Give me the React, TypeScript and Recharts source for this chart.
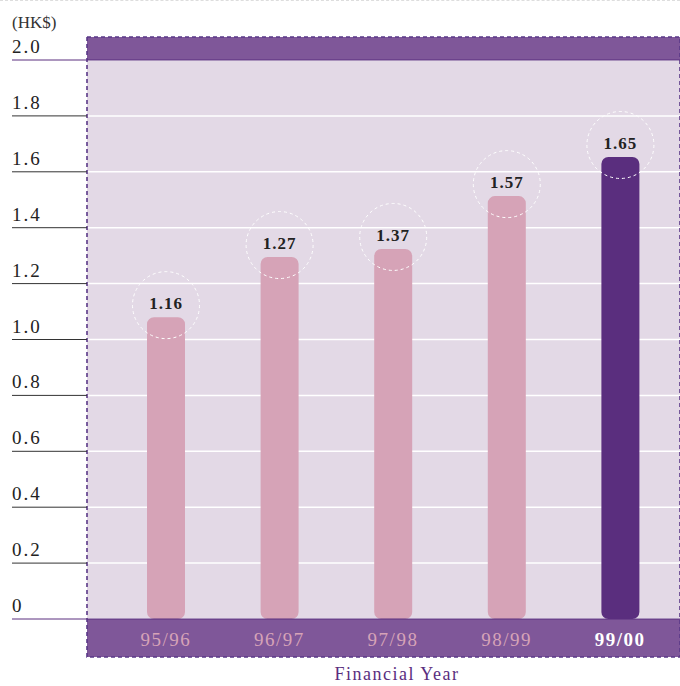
import React from "react";
import {
  BarChart,
  Bar,
  XAxis,
  YAxis,
  CartesianGrid,
  ReferenceArea,
  ReferenceLine,
  LabelList,
  Cell,
} from "recharts";

const years = ["95/96", "96/97", "97/98", "98/99", "99/00"];
const dividendLabels = ["1.16", "1.27", "1.37", "1.57", "1.65"];
// bar heights as drawn in the original artwork
const barHeights = [1.08, 1.295, 1.324, 1.513, 1.653];
const yTicks = [0, 0.2, 0.4, 0.6, 0.8, 1.0, 1.2, 1.4, 1.6, 1.8, 2.0];

const data = years.map((year, i) => ({
  year,
  value: barHeights[i],
  label: dividendLabels[i],
}));

const FONT = "'Liberation Serif', 'DejaVu Serif', serif";
const PURPLE_BAND = "#7f5799";
const DARK_PURPLE = "#5a2e7e";
const PINK = "#d6a3b7";
const PLOT_BG = "#e3d9e6";
const PLOT_LEFT = 87;
const PLOT_W = 593;

// bands span the full plot width, not just the padded category range
const FullBand = (props: any) => {
  const { y, height, fill, stroke, strokeDasharray, strokeWidth } = props;
  return (
    <rect
      x={PLOT_LEFT}
      y={y}
      width={PLOT_W}
      height={height}
      fill={fill}
      stroke={stroke}
      strokeWidth={strokeWidth}
      strokeDasharray={strokeDasharray}
    />
  );
};

const YTick = (props: any) => {
  const { y, payload } = props;
  const v = payload.value;
  const edge = v === 0 || v === 2;
  return (
    <g>
      <line x1={12} x2={PLOT_LEFT} y1={y} y2={y} stroke={edge ? DARK_PURPLE : "#333"} strokeWidth={1} />
      <text x={12} y={y - 7} fontFamily={FONT} fontSize={19} letterSpacing={2} fill="#222">
        {v === 0 ? "0" : v.toFixed(1)}
      </text>
    </g>
  );
};

const XTick = (props: any) => {
  const { x, y, payload, index } = props;
  const last = index === years.length - 1;
  return (
    <text
      x={x}
      y={y + 27}
      textAnchor="middle"
      fontFamily={FONT}
      fontSize={19}
      letterSpacing={1.5}
      fontWeight={last ? 700 : 400}
      fill={last ? "#ffffff" : PINK}
    >
      {payload.value}
    </text>
  );
};

const BubbleLabel = (props: any) => {
  const { x, y, width, value } = props;
  const cx = x + width / 2;
  const cy = y - 12;
  return (
    <g>
      <circle cx={cx} cy={cy} r={33.5} fill="none" stroke="#ffffff" strokeWidth={1} strokeDasharray="3 3" />
      <text
        x={cx}
        y={cy + 4}
        textAnchor="middle"
        fontFamily={FONT}
        fontSize={17}
        fontWeight={700}
        letterSpacing={1}
        fill="#222"
      >
        {value}
      </text>
    </g>
  );
};

export default function App() {
  return (
    <div style={{ position: "absolute", left: 0, top: 0, width: 680, height: 686, background: "#fff" }}>
      <div
        style={{
          position: "absolute",
          left: 0,
          top: 0,
          width: 680,
          borderTop: "1px dashed #dddddd",
        }}
      />
      <div
        style={{
          position: "absolute",
          left: 12,
          top: 13,
          fontFamily: FONT,
          fontSize: 17,
          color: "#333",
        }}
      >
        (HK$)
      </div>
      <BarChart
        width={680}
        height={686}
        data={data}
        margin={{ top: 60, right: 0, bottom: 29, left: 0 }}
        barCategoryGap={0}
      >
        <CartesianGrid horizontal vertical={false} stroke="#ffffff" strokeWidth={1.5} fill={PLOT_BG} />
        <ReferenceArea y1={2} y2={2.0823} fill={PURPLE_BAND} fillOpacity={1} ifOverflow="visible" shape={<FullBand />} />
        <ReferenceArea y1={-0.136} y2={0} fill={PURPLE_BAND} fillOpacity={1} ifOverflow="visible" shape={<FullBand />} />
        <ReferenceLine y={2} stroke={DARK_PURPLE} strokeWidth={1} />
        <ReferenceLine y={0} stroke={DARK_PURPLE} strokeWidth={1} />
        <ReferenceArea
          y1={-0.136}
          y2={2.0823}
          fill="none"
          stroke="#5a3888"
          strokeWidth={1.6}
          strokeDasharray="4 3"
          ifOverflow="visible"
          shape={<FullBand />}
        />
        <XAxis
          dataKey="year"
          height={38}
          axisLine={false}
          tickLine={false}
          tickSize={0}
          tickMargin={0}
          padding={{ left: 22, right: 3 }}
          tick={<XTick />}
          interval={0}
        />
        <YAxis
          width={PLOT_LEFT}
          domain={[0, 2]}
          ticks={yTicks}
          axisLine={false}
          tickLine={false}
          tick={<YTick />}
          interval={0}
        />
        <Bar dataKey="value" barSize={38} radius={[7, 7, 7, 7]} isAnimationActive={false}>
          {data.map((d, i) => (
            <Cell key={d.year} fill={i === data.length - 1 ? DARK_PURPLE : PINK} />
          ))}
          <LabelList dataKey="label" content={<BubbleLabel />} />
        </Bar>
      </BarChart>
      <div
        style={{
          position: "absolute",
          left: 317,
          top: 664,
          width: 160,
          textAlign: "center",
          fontFamily: FONT,
          fontSize: 18,
          letterSpacing: 1.5,
          color: DARK_PURPLE,
          whiteSpace: "nowrap",
        }}
      >
        Financial Year
      </div>
    </div>
  );
}
